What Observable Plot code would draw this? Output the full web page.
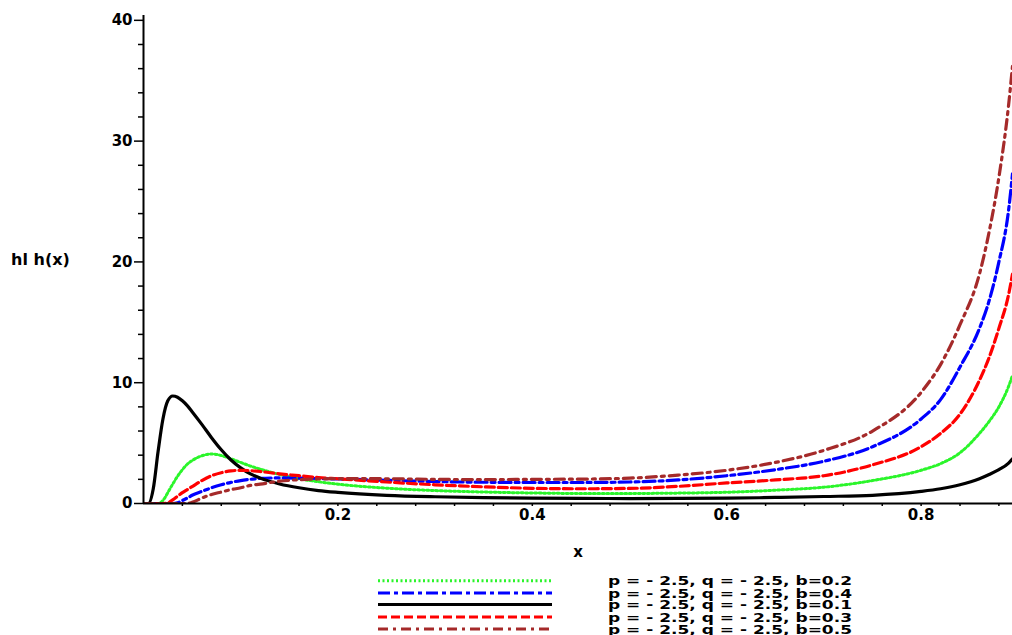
<!DOCTYPE html>
<html><head><meta charset="utf-8">
<script src="https://cdn.jsdelivr.net/npm/d3@7"></script>
<script src="https://cdn.jsdelivr.net/npm/@observablehq/plot@0.6"></script>
<style>
body{margin:0;background:#fff;}
#wrap{position:relative;width:1012px;height:635px;overflow:hidden;background:#fff;}
#wrap svg{display:block;}
#legend{position:absolute;left:0;top:565px;}
</style></head><body><div id="wrap"></div>
<script>
// x grid
const xs = [0, 0.005, 0.01, 0.015, 0.02, 0.025, 0.03, 0.035, 0.04, 0.045, 0.05, 0.06, 0.07, 0.08, 0.09, 0.1, 0.11, 0.12, 0.14, 0.16, 0.18, 0.2, 0.25, 0.3, 0.35, 0.4, 0.45, 0.5, 0.55, 0.6, 0.65, 0.7, 0.75, 0.8, 0.82, 0.84, 0.86, 0.87, 0.88, 0.89, 0.894];
// hl h(x) for p = -2.5, q = -2.5
const hB01 = [0, 0, 1.2, 4.3, 7.0, 8.5, 8.9, 8.8, 8.5, 8.1, 7.6, 6.55, 5.45, 4.45, 3.6, 2.95, 2.45, 2.1, 1.62, 1.3, 1.07, 0.92, 0.68, 0.56, 0.49, 0.45, 0.42, 0.41, 0.42, 0.44, 0.5, 0.58, 0.68, 1.0, 1.22, 1.55, 2.05, 2.4, 2.8, 3.35, 3.7];
const hB02 = [0, 0, 0, 0, 0.25, 0.9, 1.6, 2.25, 2.8, 3.25, 3.55, 3.95, 4.1, 3.97, 3.7, 3.4, 3.1, 2.85, 2.4, 2.05, 1.8, 1.6, 1.27, 1.07, 0.95, 0.87, 0.83, 0.83, 0.86, 0.93, 1.1, 1.35, 1.9, 2.75, 3.3, 4.2, 5.8, 6.8, 8.0, 9.7, 10.6];
const hB03 = [0, 0, 0, 0, 0, 0.05, 0.3, 0.6, 0.9, 1.15, 1.4, 1.9, 2.3, 2.55, 2.7, 2.75, 2.72, 2.65, 2.45, 2.3, 2.15, 2.05, 1.78, 1.55, 1.38, 1.26, 1.22, 1.25, 1.42, 1.7, 1.95, 2.3, 3.2, 4.7, 5.8, 7.4, 10.2, 12.1, 14.5, 17.3, 19.0];
const hB04 = [0, 0, 0, 0, 0, 0, 0, 0.05, 0.25, 0.45, 0.68, 1.0, 1.3, 1.55, 1.75, 1.9, 2.0, 2.08, 2.12, 2.1, 2.07, 2.03, 1.92, 1.82, 1.76, 1.74, 1.74, 1.78, 1.95, 2.3, 2.8, 3.5, 4.7, 7.0, 8.6, 11.3, 14.5, 16.8, 20.0, 24.3, 27.3];
const hB05 = [0, 0, 0, 0, 0, 0, 0, 0, 0, 0, 0.1, 0.45, 0.75, 0.95, 1.15, 1.3, 1.5, 1.6, 1.85, 1.97, 2.03, 2.06, 2.05, 2.0, 1.98, 2.0, 2.02, 2.1, 2.35, 2.75, 3.4, 4.4, 6.0, 9.2, 11.5, 14.8, 19.0, 22.5, 27.0, 33.0, 36.2];

const legendLabels = ["p = - 2.5, q = - 2.5, b=0.2", "p = - 2.5, q = - 2.5, b=0.4", "p = - 2.5, q = - 2.5, b=0.1", "p = - 2.5, q = - 2.5, b=0.3", "p = - 2.5, q = - 2.5, b=0.5"];
const yTicks = [0, 10, 20, 30, 40];
const yMinorTicks = [2, 4, 6, 8, 12, 14, 16, 18, 22, 24, 26, 28, 32, 34, 36, 38];
const xTicks = [0.2, 0.4, 0.6, 0.8];
const xMinorTicks = [0.04, 0.08, 0.12, 0.16, 0.24, 0.28, 0.32, 0.36, 0.44, 0.48, 0.52, 0.56, 0.64, 0.68, 0.72, 0.76, 0.84, 0.88];

const series = [
  {values: hB02, color: "#2bf52b", dash: "2,2.5", width: 3},
  {values: hB04, color: "#0000ff", dash: "12,4,4,4", width: 3.2},
  {values: hB01, color: "#000000", dash: null, width: 3.2},
  {values: hB03, color: "#ff0000", dash: "9,4", width: 3.2},
  {values: hB05, color: "#a52a2a", dash: "10,5,3,5", width: 3.2}
];
series.forEach((s, k) => s.label = legendLabels[k]);

const font = "'DejaVu Sans', 'Liberation Sans', sans-serif";

const lineMarks = series.map(s => Plot.line(xs.map((x, i) => ({x, y: s.values[i]})), {
  x: "x", y: "y", stroke: s.color, strokeWidth: s.width,
  strokeDasharray: s.dash || undefined, curve: "monotone-x", clip: true
}));

const chart = Plot.plot({
  width: 1012, height: 565,
  marginLeft: 143, marginRight: 0, marginTop: 15, marginBottom: 62,
  x: {domain: [0, 0.894], label: null},
  y: {domain: [0, 40.4], label: null},
  style: {fontFamily: font, fontSize: "15px", fontWeight: "bold", color: "#000", background: "#fff", overflow: "visible"},
  marks: [
    ...lineMarks,
    Plot.ruleX([0], {y1: 0, y2: 40.4, stroke: "#000", strokeWidth: 2}),
    Plot.ruleY([0], {stroke: "#000", strokeWidth: 2}),
    Plot.axisY(yTicks, {tickSize: 9, tickPadding: 2, tickFormat: d => String(d), label: null, strokeWidth: 1.5, fontWeight: "bold", fontSize: 15}),
    Plot.axisY(yMinorTicks, {tickSize: 5, text: null, label: null, strokeWidth: 1.5}),
    Plot.axisX(xTicks, {tickSize: 3, tickPadding: 3, tickFormat: d => d.toFixed(1), label: null, strokeWidth: 1.5, fontWeight: "bold", fontSize: 15}),
    Plot.axisX(xMinorTicks, {tickSize: 3, text: null, label: null, strokeWidth: 1.5}),
    Plot.text(["hl h(x)"], {text: d => d, frameAnchor: "left", dx: -103, textAnchor: "middle", fontSize: 16, fontWeight: "bold"}),
    Plot.text(["x"], {text: d => d, frameAnchor: "bottom", dy: 53, fontSize: 15, fontWeight: "bold"})
  ]
});
const wrap = document.getElementById("wrap");
wrap.appendChild(chart);

// legend below the plot
const rowY = [15.7, 28, 39.5, 52, 64];
const leg = d3.create("svg").attr("id", "legend").attr("width", 1012).attr("height", 70)
  .style("font-family", font).style("font-weight", "bold");
series.forEach((s, k) => {
  leg.append("line").attr("x1", 378).attr("x2", 552).attr("y1", rowY[k]).attr("y2", rowY[k])
    .attr("stroke", s.color).attr("stroke-width", s.width)
    .attr("stroke-dasharray", s.dash || null);
  leg.append("text").attr("x", 608).attr("y", rowY[k]).attr("dy", "0.36em")
    .attr("font-size", 13).attr("textLength", 244).attr("lengthAdjust", "spacingAndGlyphs")
    .attr("fill", "#000").text(s.label);
});
wrap.appendChild(leg.node());
</script></body></html>
